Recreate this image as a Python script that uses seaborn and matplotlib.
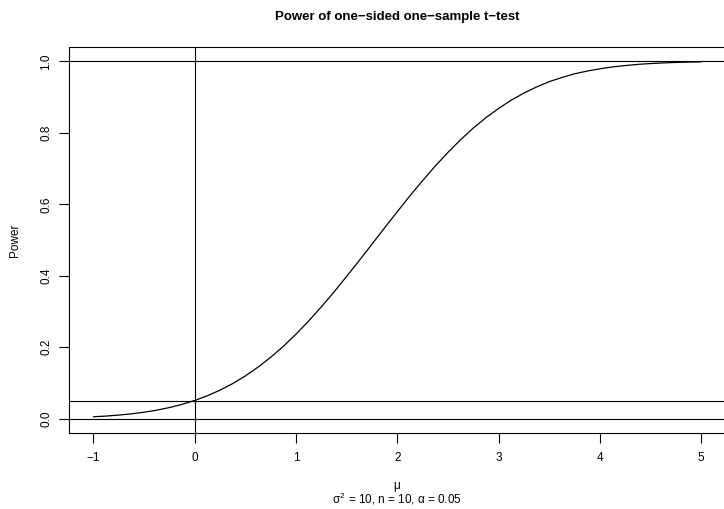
import matplotlib
matplotlib.use("Agg")
import matplotlib.pyplot as plt
import seaborn as sns
import pandas as pd

# Values
mu = [-1.0, -0.875, -0.75, -0.625, -0.5, -0.375, -0.25, -0.125,
      0.0, 0.125, 0.25, 0.375, 0.5, 0.625, 0.75, 0.875,
      1.0, 1.125, 1.25, 1.375, 1.5, 1.625, 1.75, 1.875,
      2.0, 2.125, 2.25, 2.375, 2.5, 2.625, 2.75, 2.875,
      3.0, 3.125, 3.25, 3.375, 3.5, 3.625, 3.75, 3.875,
      4.0, 4.125, 4.25, 4.375, 4.5, 4.625, 4.75, 4.875, 5.0]
power = [0.0053, 0.0074, 0.0101, 0.0136, 0.0181, 0.0239, 0.0311, 0.0400,
         0.0510, 0.0641, 0.0798, 0.0982, 0.1196, 0.1441, 0.1717, 0.2025,
         0.2364, 0.2732, 0.3127, 0.3543, 0.3980, 0.4427, 0.4880, 0.5340,
         0.5790, 0.6236, 0.6660, 0.7069, 0.7450, 0.7805, 0.8130, 0.8422,
         0.8680, 0.8912, 0.9110, 0.9282, 0.9430, 0.9547, 0.9650, 0.9727,
         0.9790, 0.9843, 0.9880, 0.9914, 0.9937, 0.9955, 0.9968, 0.9977, 0.9984]
hlines = [0.0, 0.05, 1.0]
vlines = [0.0]
xticks = [-1, 0, 1, 2, 3, 4, 5]
yticks = [0.0, 0.2, 0.4, 0.6, 0.8, 1.0]

sns.set_style("white")
plt.rcParams['font.family'] = ['Liberation Sans', 'DejaVu Sans']
plt.rcParams['mathtext.fontset'] = 'custom'
plt.rcParams['mathtext.rm'] = 'Liberation Sans'
plt.rcParams['mathtext.it'] = 'Liberation Sans'
plt.rcParams['text.color'] = 'black'
plt.rcParams['axes.labelcolor'] = 'black'
plt.rcParams['xtick.color'] = 'black'
plt.rcParams['ytick.color'] = 'black'

df = pd.DataFrame({"mu": mu, "power": power})

fig = plt.figure(figsize=(7.24, 5.09), dpi=100)
W, H = 724, 509
left, right, top, bottom = 69, 725.5, 47, 433
ax = fig.add_axes([left / W, 1 - bottom / H, (right - left) / W, (bottom - top) / H])

sns.lineplot(data=df, x="mu", y="power", ax=ax, color="black", lw=0.9)
for h in hlines:
    ax.axhline(h, color="black", lw=0.8)
for v in vlines:
    ax.axvline(v, color="black", lw=0.8)

ax.set_xlim(-1.24, 5.24)
ax.set_ylim(-0.04, 1.04)
ax.set_xticks(xticks)
ax.set_xticklabels([str(t).replace("-", "\u2212") for t in xticks])
ax.set_yticks(yticks)
ax.set_yticklabels([f"{t:.1f}" for t in yticks], rotation=90, va="center")
ax.tick_params(axis="both", direction="out", length=7, width=0.8, color="black",
               labelcolor="black", labelsize=8.5, pad=5, left=True, bottom=True)
ax.tick_params(axis="x", pad=7)
for s in ["left", "top", "bottom"]:
    ax.spines[s].set_color("black")
    ax.spines[s].set_linewidth(0.8)
ax.spines["right"].set_visible(False)
ax.set_xlabel("")
ax.set_ylabel("Power", fontsize=8.5, labelpad=14, color="black")

cx = 0.5 * (69 + 725) / W
fig.text(cx, 1 - 486 / H, "μ", ha="center", va="center", fontsize=8.5, color="black")
fig.text(cx, 1 - 499 / H,
         r"$\sigma^2$ = 10, n = 10, $\alpha$ = 0.05", ha="center", va="center",
         fontsize=8.5, color="black")
fig.text(cx, 1 - 17 / H, "Power of one\u2212sided one\u2212sample t\u2212test",
         ha="center", va="center", fontsize=9.5, fontweight="bold", color="black")

fig.savefig("out.png", dpi=100)
